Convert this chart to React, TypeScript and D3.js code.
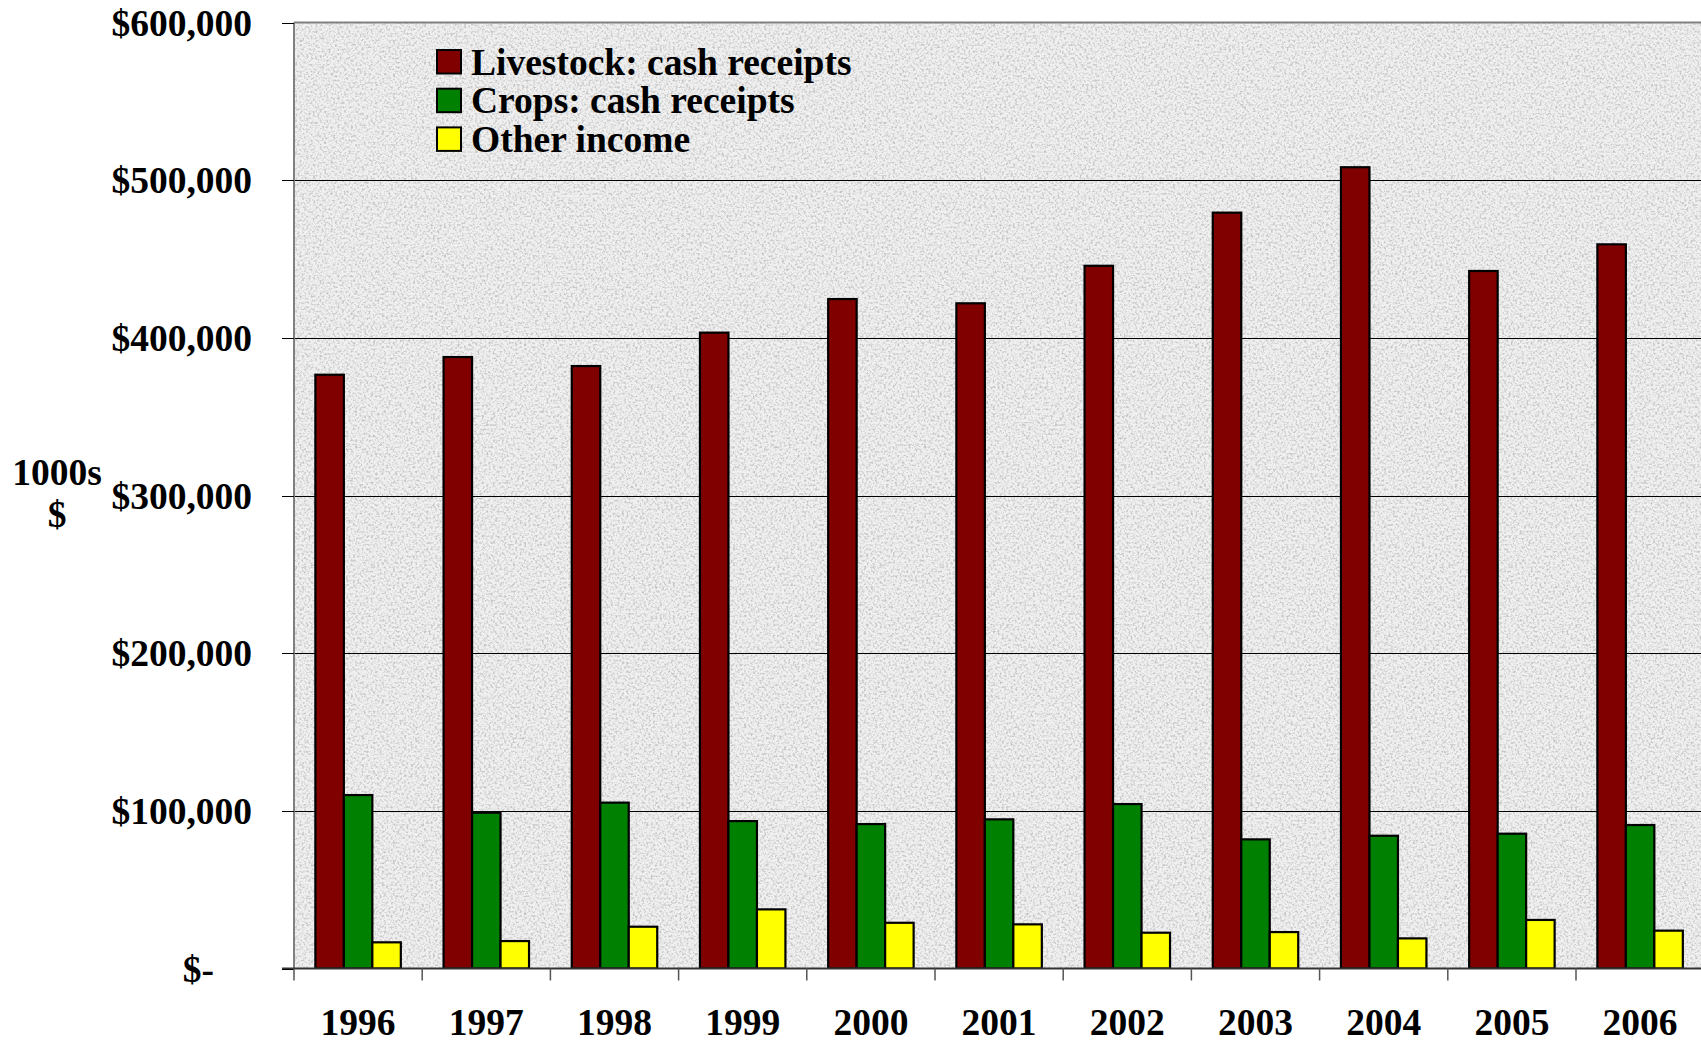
import React from "react";
import * as d3 from "d3";

const years = ["1996", "1997", "1998", "1999", "2000", "2001", "2002", "2003", "2004", "2005", "2006"];
const seriesNames = ["Livestock: cash receipts", "Crops: cash receipts", "Other income"];
const livestock = [376600, 387800, 382100, 403300, 424600, 421900, 445700, 479400, 508200, 442400, 459300];
const crops = [110000, 98800, 105200, 93500, 91600, 94600, 104300, 81900, 84200, 85500, 91000];
const other = [16600, 17400, 26500, 37500, 29000, 28000, 22700, 23100, 19100, 30800, 24000];
const yTicks = [0, 100000, 200000, 300000, 400000, 500000, 600000];
const colors = ["#800000", "#008000", "#ffff00"];

const W = 1701;
const H = 1044;
const left = 294;
const top = 22.5;
const bottom = 968.5;
const step = 128.2;
const right = left + step * years.length;
const FONT = "'Liberation Serif', 'Times New Roman', serif";
const FS = 37.5;

export default function App() {
  const y = d3.scaleLinear().domain([0, 600000]).range([bottom, top]);
  const x = d3.scaleBand<string>().domain(years).range([left, right]).padding(0);
  const xs = d3.scaleBand<string>().domain(seriesNames).range([0, x.bandwidth()]).paddingInner(0).paddingOuter(0.75);
  const data = [livestock, crops, other];
  const fmt = (v: number) => (v === 0 ? "$-" : "$" + d3.format(",")(v));
  const snap = (v: number) => Math.round(v) + 0.5;

  return (
    <div style={{ position: "absolute", left: 0, top: 0, width: W, height: H, overflow: "hidden" }}>
      <svg width={W} height={H} style={{ display: "block", background: "#fff" }}>
        <defs>
          <filter id="granite" x="0" y="0" width="100%" height="100%">
            <feTurbulence type="fractalNoise" baseFrequency="0.45" numOctaves="3" seed="7" result="noise" />
            <feColorMatrix
              in="noise"
              type="matrix"
              values="0 0 0 0 0.4  0 0 0 0 0.4  0 0 0 0 0.4  3.2 0 0 0 -1.45"
            />
          </filter>
          <clipPath id="plotclip">
            <rect x={left} y={top} width={right - left} height={bottom - top} />
          </clipPath>
        </defs>
        {/* plot background */}
        <rect x={left} y={top} width={right - left} height={bottom - top} fill="#f0f0f0" />
        <rect x={left} y={top} width={right - left} height={bottom - top} fill="#000" filter="url(#granite)" opacity={0.6} />

        {/* gridlines */}
        {yTicks.filter((t) => t > 0 && t < 600000).map((t) => (
          <line key={t} x1={left} x2={right} y1={snap(y(t))} y2={snap(y(t))} stroke="#000" strokeWidth={1} />
        ))}
        <line x1={left} x2={right} y1={y(600000)} y2={y(600000)} stroke="#808080" strokeWidth={2} />

        {/* bars */}
        <g clipPath="url(#plotclip)">
          {years.map((yr, i) => (
            <g key={yr}>
              {seriesNames.map((s, j) => (
                <rect
                  key={s}
                  x={(x(yr) as number) + (xs(s) as number)}
                  y={y(data[j][i])}
                  width={xs.bandwidth()}
                  height={bottom - y(data[j][i])}
                  fill={colors[j]}
                  stroke="#000"
                  strokeWidth={2.2}
                />
              ))}
            </g>
          ))}
        </g>

        {/* axes */}
        <line x1={left} x2={left} y1={top} y2={bottom} stroke="#808080" strokeWidth={2} />
        <line x1={left - 12} x2={right} y1={bottom} y2={bottom} stroke="#333" strokeWidth={2} />
        {yTicks.map((t) => (
          <line key={"yt" + t} x1={left - 12} x2={left} y1={snap(y(t))} y2={snap(y(t))} stroke="#000" strokeWidth={1} />
        ))}
        {years.map((yr) => (
          <line key={"xt" + yr} x1={x(yr) as number} x2={x(yr) as number} y1={bottom} y2={bottom + 12} stroke="#555" strokeWidth={1.5} />
        ))}

        {/* y tick labels */}
        {yTicks.map((t) => (
          <text
            key={"yl" + t}
            x={t === 0 ? 214 : 252}
            y={y(t)}
            dy="0.35em"
            textAnchor="end"
            fontFamily={FONT}
            fontWeight="bold"
            fontSize={FS}
            fill="#000"
          >
            {fmt(t)}
          </text>
        ))}

        {/* x tick labels */}
        {years.map((yr) => (
          <text
            key={"xl" + yr}
            x={(x(yr) as number) + x.bandwidth() / 2}
            y={1035}
            textAnchor="middle"
            fontFamily={FONT}
            fontWeight="bold"
            fontSize={FS}
            fill="#000"
          >
            {yr}
          </text>
        ))}

        {/* axis title */}
        <text x={57} y={485} textAnchor="middle" fontFamily={FONT} fontWeight="bold" fontSize={FS} fill="#000">
          1000s
        </text>
        <text x={57} y={527} textAnchor="middle" fontFamily={FONT} fontWeight="bold" fontSize={FS} fill="#000">
          $
        </text>

        {/* legend */}
        {seriesNames.map((s, j) => (
          <g key={"lg" + s} transform={`translate(437, ${50 + j * 38.7})`}>
            <rect x={0} y={0} width={24} height={23.5} fill={colors[j]} stroke="#000" strokeWidth={2} />
            <text x={34} y={24.5} fontFamily={FONT} fontWeight="bold" fontSize={FS} fill="#000">
              {s}
            </text>
          </g>
        ))}
      </svg>
    </div>
  );
}
